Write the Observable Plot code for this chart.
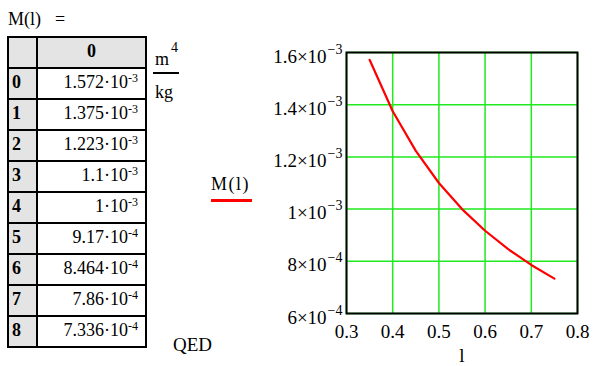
<!DOCTYPE html>
<html>
<head>
<meta charset="utf-8">
<script src="https://cdn.jsdelivr.net/npm/d3@7"></script>
<script src="https://cdn.jsdelivr.net/npm/@observablehq/plot@0.6"></script>
<style>
  html, body { margin: 0; padding: 0; background: #fff; }
  #page { position: relative; width: 593px; height: 366px; overflow: hidden; font-family: "Liberation Serif", "Times New Roman", serif; color: #000; }
  .t { position: absolute; white-space: nowrap; line-height: 1; }
  .cell { position: absolute; box-sizing: border-box; border: 2px solid #000; display: flex; align-items: center; font-size: 18px; padding-bottom: 2px; }
  .cell.gray { background: #e4e4e4; }
  .cell.val { background: #fff; justify-content: flex-end; padding-right: 7px; }
  .cell.idx { padding-left: 3px; font-weight: bold; }
  .cell.head { justify-content: center; font-weight: bold; }
  .cell sup { font-size: 12px; vertical-align: 6px; line-height: 0; }
</style>
</head>
<body>
<div id="page"></div>
<script>
// ---- data ----
const lValues = [0.35, 0.40, 0.45, 0.50, 0.55, 0.60, 0.65, 0.70, 0.75];
const MValues = [1.572e-3, 1.375e-3, 1.223e-3, 1.1e-3, 1e-3, 9.17e-4, 8.464e-4, 7.86e-4, 7.336e-4];
const tableMant = ["1.572", "1.375", "1.223", "1.1", "1", "9.17", "8.464", "7.86", "7.336"];
const tableExp = ["-3", "-3", "-3", "-3", "-3", "-4", "-4", "-4", "-4"];
const xTicks = [0.3, 0.4, 0.5, 0.6, 0.7, 0.8];
const yTicks = [6e-4, 8e-4, 1e-3, 1.2e-3, 1.4e-3, 1.6e-3];
const yMant = ["6", "8", "1", "1.2", "1.4", "1.6"];
const yExp = ["\u22124", "\u22124", "\u22123", "\u22123", "\u22123", "\u22123"];
const xLabel = "l";
const seriesLabel = "M(l)";

const page = document.getElementById("page");
function text(str, left, baseline, fs, extra) {
  const d = document.createElement("div");
  d.className = "t";
  d.style.left = left + "px";
  d.style.top = (baseline - 0.8375 * fs) + "px";
  d.style.fontSize = fs + "px";
  d.innerHTML = str;
  if (extra) Object.assign(d.style, extra);
  page.appendChild(d);
  return d;
}
function box(left, top, w, h, color) {
  const d = document.createElement("div");
  Object.assign(d.style, {position: "absolute", left: left + "px", top: top + "px", width: w + "px", height: h + "px", background: color});
  page.appendChild(d);
}

// Title "M(l) ="
text("M(l)", 8, 25, 18);
text("=", 55, 25, 18);

// Table
const T = document.createElement("div");
Object.assign(T.style, {position: "absolute", left: "7px", top: "36px", width: "140px", height: "312px"});
page.appendChild(T);
function cell(cls, left, top, w, h, html) {
  const c = document.createElement("div");
  c.className = "cell " + cls;
  Object.assign(c.style, {left: left + "px", top: top + "px", width: w + "px", height: h + "px"});
  c.innerHTML = html;
  T.appendChild(c);
}
cell("gray", 0, 0, 31, 33, "");
cell("gray head", 29, 0, 111, 33, "0");
tableMant.forEach((m, i) => {
  const top = 31 * (i + 1);
  cell("gray idx", 0, top, 31, 33, String(i));
  cell("val", 29, top, 111, 33, "<span>" + m + "\u00B710<sup>" + tableExp[i] + "</sup></span>");
});

// Units m^4 / kg
text("m", 155, 65, 18);
text("4", 171, 53, 14);
box(153, 72, 26, 2, "#000");
text("kg", 155, 98, 18);

// QED
text("QED", 173, 351, 19);

// Legend
text(seriesLabel, 211, 190, 18, {letterSpacing: "1.5px"});
box(211, 199, 41, 2.5, "#ff0000");

// ---- plot ----
const data = lValues.map((x, i) => ({l: x, M: MValues[i]}));
const yLab = yMant.map(m => m + "\u00D710");
const green = "#1eea1e";
const chart = Plot.plot({
  width: 330,
  height: 366,
  marginLeft: 83,
  marginRight: 16,
  marginTop: 52,
  marginBottom: 53,
  style: {fontFamily: "'Liberation Serif', 'Times New Roman', serif", fontSize: "19px", color: "#000", background: "transparent", overflow: "visible"},
  x: {domain: [0.3, 0.8]},
  y: {domain: [6e-4, 1.6e-3]},
  marks: [
    Plot.gridX(xTicks, {stroke: green, strokeOpacity: 1, strokeWidth: 1.5}),
    Plot.gridY(yTicks, {stroke: green, strokeOpacity: 1, strokeWidth: 1.5}),
    Plot.axisX(xTicks, {tickSize: 0, tickPadding: 11, tickFormat: d3.format(".1f"), label: null, fontSize: 19}),
    Plot.axisY(yTicks, {tickSize: 0, tickPadding: 4, dy: 4, tickFormat: d => yLab[yTicks.indexOf(d)], label: null, fontSize: 19}),
    Plot.line(data, {x: "l", y: "M", stroke: "#ff0000", strokeWidth: 2.2}),
    Plot.frame({stroke: "#000", strokeWidth: 2}),
    Plot.text([{x: 0.55}], {x: "x", frameAnchor: "bottom", dy: 48, text: () => xLabel, fontSize: 19})
  ]
});
d3.select(chart).selectAll('g[aria-label="y-axis tick label"] text').each(function() {
  const i = yLab.indexOf(this.textContent);
  if (i >= 0) d3.select(this).append("tspan").attr("dx", 1).attr("dy", -9).attr("font-size", 14).text(yExp[i]);
});
chart.style.position = "absolute";
chart.style.left = "263px";
chart.style.top = "0px";
page.appendChild(chart);
</script>
</body>
</html>
